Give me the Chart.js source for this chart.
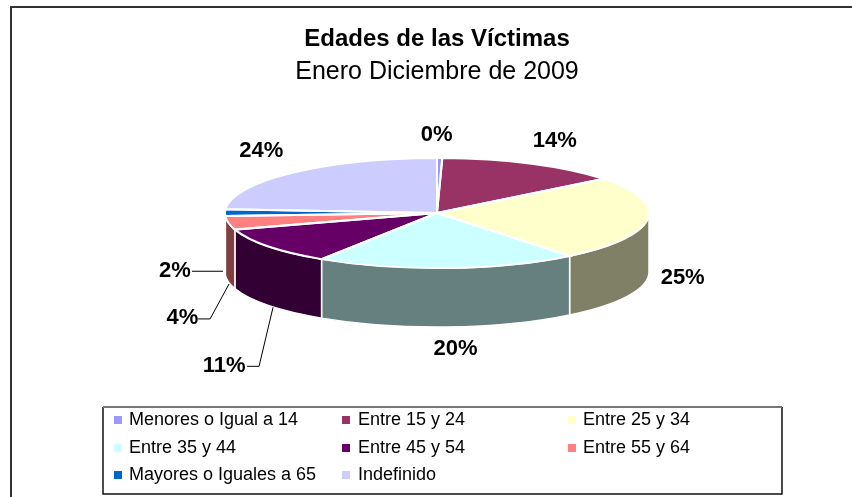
<!DOCTYPE html>
<html><head><meta charset="utf-8">
<style>html,body{margin:0;padding:0;background:#fff}canvas{display:block}</style>
<script src="https://cdn.jsdelivr.net/npm/chart.js@4"></script></head>
<body><div style="width:852px;height:497px;position:relative"><canvas id="c" width="852" height="497"></canvas></div>
<script>
const categories = ["Menores o Igual a 14","Entre 15 y 24","Entre 25 y 34","Entre 35 y 44","Entre 45 y 54","Entre 55 y 64","Mayores o Iguales a 65","Indefinido"];
const values = [0.4,14,25,20,11,4,2,24];
const valueLabels = ["0%","14%","25%","20%","11%","4%","2%","24%"];
const colors = ["#9999ff","#993366","#ffffcc","#ccffff","#660066","#ff8080","#0066cc","#ccccff"];
const wallColors = ["#4c4c80","#4d1a33","#808066","#668080","#330033","#804040","#003366","#666680"];
const titleText = "Edades de las Víctimas";
const subtitleText = "Enero Diciembre de 2009";

// Layout only
const RX = 212, RY = 55, CY = 213, DEPTH = 59;
const labelOffsets = [[-3,-23.5],[23,-23],[35,59],[8,81],[-44.3,120],[-46,95],[-50,58.6],[-31,-22]];
const leaders = {4:[[4.7,61],[-9.3,120],[-21.3,120]],5:[[0.6,61],[-18.4,96],[-30.4,96]],6:[[-2,58.6],[-33,58.6]]};
const legendBox = {x:103,y:407,r:782,b:494,rows:[420,448,475],cols:[[118,129],[346,358],[572,583]]};

const pie3d = {
  id:'pie3d',
  beforeDraw(chart){
    const c=chart.ctx;
    c.save();c.strokeStyle='#333';c.lineWidth=2;
    c.beginPath();c.moveTo(11,497);c.lineTo(11,7);c.lineTo(852,7);c.stroke();
    c.restore();
  },
  beforeDatasetsDraw(chart){
    const c=chart.ctx, arcs=chart.getDatasetMeta(0).data;
    arcs.forEach((a,i)=>{
      const s=Math.max(a.startAngle,0), e=Math.min(a.endAngle,Math.PI);
      if(e<=s) return;
      c.save();
      c.beginPath();
      c.ellipse(a.x,CY,RX,RY,0,s,e);
      c.ellipse(a.x,CY+DEPTH,RX,RY,0,e,s,true);
      c.closePath();
      c.fillStyle=wallColors[i];c.fill();
      c.strokeStyle='#fff';c.lineWidth=1.5;c.stroke();
      c.restore();
    });
    c.save();
    const a=arcs[0];
    c.translate(a.x,CY);c.scale(1,RY/RX);c.translate(-a.x,-a.y);
  },
  afterDatasetsDraw(chart){
    const c=chart.ctx, arcs=chart.getDatasetMeta(0).data;
    c.restore();
    arcs.forEach(a=>{
      c.save();
      c.beginPath();
      c.moveTo(a.x,CY);
      c.ellipse(a.x,CY,RX,RY,0,a.startAngle,a.endAngle);
      c.closePath();
      c.strokeStyle='#fff';c.lineWidth=2;c.stroke();
      c.restore();
    });
    c.save();
    c.textAlign='center';c.textBaseline='middle';
    c.font='bold 22px "Liberation Sans"';
    arcs.forEach((a,i)=>{
      const mid=(a.startAngle+a.endAngle)/2;
      const px=a.x+RX*Math.cos(mid), py=CY+RY*Math.sin(mid);
      const o=labelOffsets[i];
      c.fillStyle='#000';
      c.fillText(valueLabels[i],px+o[0],py+o[1]);
      if(leaders[i]){
        c.beginPath();
        leaders[i].forEach((p,k)=>k?c.lineTo(px+p[0],py+p[1]):c.moveTo(px+p[0],py+p[1]));
        c.strokeStyle='#000';c.lineWidth=1;c.stroke();
      }
    });
    c.restore();
    const L=legendBox;
    c.save();
    c.lineWidth=1.5;c.strokeStyle='#111';
    c.beginPath();c.moveTo(L.x,L.y);c.lineTo(L.x,L.b);c.lineTo(L.r,L.b);c.lineTo(L.r,L.y);c.stroke();
    c.lineWidth=2;c.strokeStyle='#777';
    c.beginPath();c.moveTo(L.x,L.y);c.lineTo(L.r,L.y);c.stroke();
    c.textBaseline='middle';c.textAlign='left';c.font='18px "Liberation Sans"';
    categories.forEach((t,i)=>{
      const r=Math.floor(i/3), k=i%3;
      c.fillStyle=colors[i];
      c.fillRect(L.cols[k][0]-4,L.rows[r]-4,8,8);
      c.fillStyle='#000';
      c.fillText(t,L.cols[k][1],L.rows[r]);
    });
    c.restore();
  }
};
new Chart(document.getElementById('c'),{
  type:'pie',
  data:{labels:categories,datasets:[{data:values,backgroundColor:colors,borderWidth:0}]},
  plugins:[pie3d],
  options:{
    responsive:false,animation:false,
    radius:RX,
    layout:{padding:{left:22,top:25,right:0,bottom:0}},
    plugins:{
      legend:{display:false},tooltip:{enabled:false},
      title:{display:true,text:titleText,color:'#000',font:{family:'"Liberation Sans"',size:24,weight:'bold'},padding:{top:0,bottom:3}},
      subtitle:{display:true,text:subtitleText,color:'#000',font:{family:'"Liberation Sans"',size:25,weight:'normal'},padding:{top:0,bottom:0}}
    }
  }
});
</script></body></html>
